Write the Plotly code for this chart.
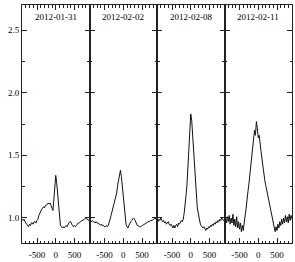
import plotly.graph_objects as go
from plotly.subplots import make_subplots

# velocity grid (km/s), 25 km/s sampling from -900 to 900
velocity = list(range(-900, 925, 25))

dates = ["2012-01-31", "2012-02-02", "2012-02-08", "2012-02-11"]

flux_0131 = [0.99, 0.98, 0.99, 0.97, 0.96, 0.95, 0.94, 0.93, 0.95, 0.94,
             0.96, 0.96, 0.95, 0.97, 0.97, 0.96, 0.98, 0.99, 1.02, 1.04,
             1.05, 1.07, 1.08, 1.09, 1.08, 1.10, 1.10, 1.11, 1.12, 1.11,
             1.12, 1.10, 1.08, 1.06, 1.15, 1.27, 1.34, 1.28, 1.18, 1.08,
             0.99, 0.94, 0.93, 0.92, 0.93, 0.92, 0.93, 0.94, 0.93, 0.95,
             0.96, 0.97, 0.97, 0.95, 0.94, 0.93, 0.94, 0.93, 0.94, 0.95,
             0.96, 0.96, 0.97, 0.97, 0.98, 0.98, 0.99, 0.99, 1.00, 0.99,
             0.99, 0.98, 0.99]

flux_0202 = [0.98, 0.98, 0.97, 0.98, 0.97, 0.97, 0.96, 0.97, 0.96, 0.96,
             0.95, 0.95, 0.94, 0.95, 0.94, 0.94, 0.93, 0.93, 0.94, 0.93,
             0.94, 0.96, 0.99, 1.02, 1.05, 1.07, 1.09, 1.12, 1.16, 1.20,
             1.26, 1.31, 1.36, 1.38, 1.33, 1.25, 1.17, 1.07, 0.99, 0.95,
             0.93, 0.92, 0.94, 0.96, 0.97, 0.98, 0.99, 1.00, 0.99, 0.97,
             0.95, 0.94, 0.94, 0.93, 0.93, 0.93, 0.94, 0.94, 0.95, 0.95,
             0.96, 0.96, 0.97, 0.97, 0.97, 0.98, 0.98, 0.98, 0.99, 0.99,
             1.00, 0.99, 1.00]

flux_0208 = [0.98, 0.97, 0.99, 0.98, 1.00, 0.98, 0.97, 0.98, 0.96, 0.97,
             0.95, 0.96, 0.97, 0.95, 0.94, 0.95, 0.93, 0.92, 0.94, 0.92,
             0.94, 0.95, 0.93, 0.96, 0.95, 0.97, 0.98, 0.97, 0.99, 1.04,
             1.10, 1.18, 1.27, 1.42, 1.58, 1.74, 1.83, 1.78, 1.66, 1.52,
             1.36, 1.25, 1.15, 1.08, 1.04, 0.99, 0.96, 0.94, 0.93, 0.92,
             0.93, 0.91, 0.90, 0.92, 0.91, 0.93, 0.92, 0.94, 0.93, 0.95,
             0.94, 0.96, 0.95, 0.97, 0.96, 0.98, 0.97, 0.99, 0.98, 1.00,
             0.99, 0.98, 0.99]

flux_0211 = [0.98, 1.00, 0.96, 1.01, 0.97, 1.02, 0.95, 1.00, 0.96, 1.03,
             0.94, 0.99, 0.93, 1.01, 0.92, 0.97, 0.91, 0.96, 0.89, 0.94,
             0.90, 0.98, 1.02, 1.07, 1.12, 1.21, 1.27, 1.35, 1.42, 1.48,
             1.57, 1.63, 1.70, 1.66, 1.77, 1.72, 1.64, 1.66, 1.57, 1.53,
             1.47, 1.40, 1.35, 1.30, 1.26, 1.22, 1.19, 1.15, 1.10, 1.07,
             1.03, 1.00, 0.96, 0.92, 0.89, 0.93, 0.90, 0.95, 0.92, 0.97,
             0.94, 0.99, 0.95, 1.00, 0.96, 1.02, 0.97, 1.01, 0.96, 1.03,
             0.98, 1.02, 0.99]

spectra = [flux_0131, flux_0202, flux_0208, flux_0211]

x_ticks = [-500, 0, 500]
x_tick_labels = ["-500", "0", "500"]
y_ticks = [1.0, 1.5, 2.0, 2.5]

FONT = "Liberation Serif"

fig = make_subplots(rows=1, cols=4, shared_yaxes=True, horizontal_spacing=0)

for i, flux in enumerate(spectra):
    fig.add_trace(
        go.Scatter(x=velocity, y=flux, mode="lines",
                   line=dict(color="#111111", width=1), showlegend=False),
        row=1, col=i + 1,
    )
    fig.add_annotation(
        text=dates[i], xref=f"x{'' if i == 0 else i + 1} domain", x=0.5,
        yref="y domain", y=0.95, xanchor="center", yanchor="middle",
        showarrow=False, font=dict(family=FONT, size=9, color="black"),
    )

fig.update_xaxes(
    range=[-900, 900], tickmode="array", tickvals=x_ticks,
    ticktext=x_tick_labels, ticks="inside", ticklen=5,
    tickcolor="#222", tickwidth=1, showline=True, linecolor="#222",
    linewidth=1, mirror="ticks", showgrid=False, zeroline=False,
    minor=dict(dtick=100, tick0=0, ticks="inside", ticklen=2.5,
               tickcolor="#222", showgrid=False),
    tickfont=dict(family=FONT, size=9, color="black"),
    ticklabelstandoff=3,
)
fig.update_yaxes(
    range=[0.8, 2.7], tickvals=y_ticks, tickformat=".1f", ticks="inside",
    ticklen=5, tickcolor="#222", tickwidth=1, showline=True,
    linecolor="#222", linewidth=1, mirror="ticks", showgrid=False,
    zeroline=False,
    minor=dict(dtick=0.25, tick0=0, ticks="inside", ticklen=2.5,
               tickcolor="#222", showgrid=False),
    tickfont=dict(family=FONT, size=9, color="black"),
)

fig.update_layout(
    width=295, height=262,
    margin=dict(l=22, r=3, t=5, b=19),
    paper_bgcolor="white", plot_bgcolor="white",
)

fig.write_html(
    "out.html",
    config={"displayModeBar": False},
    post_script="document.body.style.margin='0px';document.body.style.padding='0px';",
)
